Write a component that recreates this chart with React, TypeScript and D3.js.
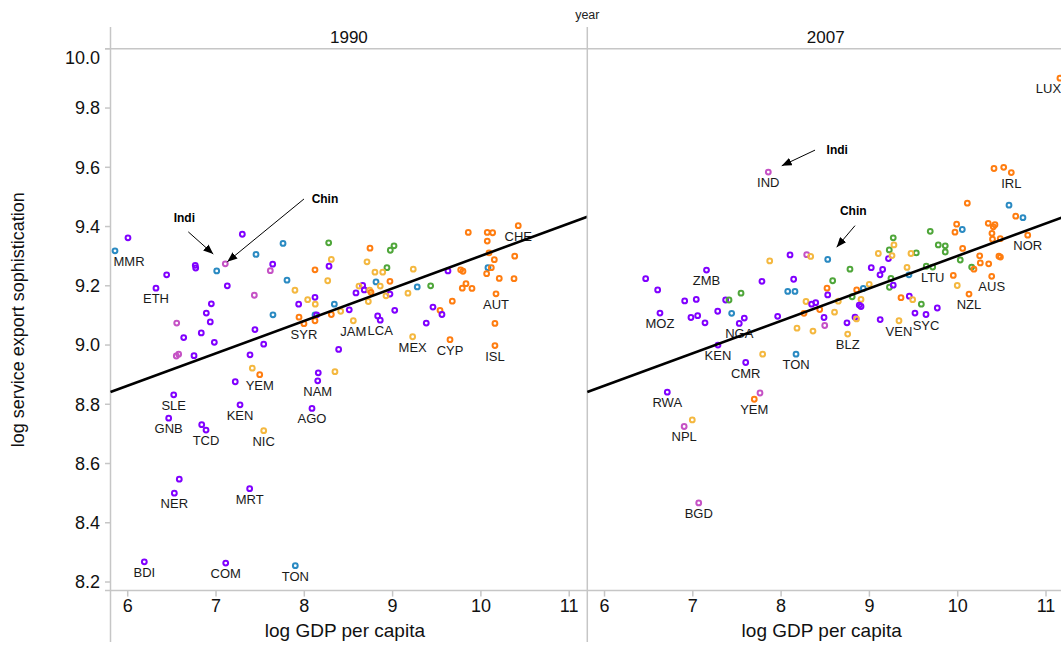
import React from 'react';
import * as d3 from 'd3';

// [log GDP per capita, log service export sophistication, region, ISO label]
type Pt = [number, number, string, string?];

const years = ['1990', '2007'];
const xTicks = [6, 7, 8, 9, 10, 11];
const yTicks = [8.2, 8.4, 8.6, 8.8, 9.0, 9.2, 9.4, 9.6, 9.8, 10.0];
const xDomain: [number, number] = [5.805, 11.205];
const yDomain: [number, number] = [8.171, 10.0];

// pooled linear fit: soph = a + b * gdp
const fitIntercept = 8.205;
const fitSlope = 0.1096;

const regionColors: Record<string, string> = {
  ssa: '#8000ff',
  eap: '#2a8ac2',
  eca: '#4fa63a',
  lac: '#f4b840',
  hi: '#ff7d10',
  sas: '#c552c5',
};

const points1990: Pt[] = [
  [5.856, 9.318, 'eap', 'MMR'], [6.003, 9.362, 'ssa'], [6.441, 9.237, 'ssa'],
  [6.32, 9.192, 'ssa', 'ETH'], [6.765, 9.269, 'ssa'], [6.77, 9.26, 'ssa'],
  [7.298, 9.374, 'ssa'], [7.008, 9.25, 'eap'], [7.105, 9.274, 'sas'],
  [7.453, 9.306, 'eap'], [7.759, 9.343, 'eap'], [8.276, 9.345, 'eca'],
  [7.642, 9.273, 'ssa'], [7.615, 9.251, 'sas'], [7.128, 9.2, 'ssa'],
  [7.804, 9.219, 'eap'], [8.306, 9.289, 'lac'], [8.121, 9.254, 'hi'],
  [8.28, 9.266, 'ssa'], [8.265, 9.217, 'lac'], [7.434, 9.168, 'sas'],
  [7.894, 9.185, 'lac'], [8.121, 9.161, 'ssa'], [8.038, 9.153, 'lac'],
  [8.124, 9.138, 'lac'], [7.936, 9.138, 'ssa'], [8.34, 9.138, 'eap'],
  [8.509, 9.119, 'ssa'], [6.947, 9.139, 'ssa'], [6.89, 9.108, 'ssa'],
  [6.935, 9.078, 'ssa'], [6.555, 9.074, 'sas'], [6.833, 9.041, 'ssa'],
  [6.634, 9.025, 'ssa'], [6.981, 9.009, 'ssa'], [6.577, 8.969, 'sas'],
  [6.55, 8.963, 'sas'], [6.751, 8.964, 'ssa'], [7.441, 9.052, 'ssa'],
  [7.54, 9.003, 'ssa'], [7.385, 8.967, 'ssa'], [7.645, 9.102, 'eap'],
  [7.94, 9.094, 'hi'], [7.996, 9.072, 'hi', 'SYR'], [8.121, 9.102, 'eap'],
  [8.14, 9.102, 'ssa'], [8.121, 9.082, 'hi'], [8.306, 9.103, 'hi'],
  [8.412, 9.114, 'lac'], [8.389, 8.985, 'ssa'], [7.411, 8.922, 'lac'],
  [7.495, 8.9, 'hi', 'YEM'], [8.158, 8.906, 'ssa'], [8.347, 8.91, 'lac'],
  [7.218, 8.876, 'ssa'], [8.152, 8.879, 'ssa', 'NAM'], [6.521, 8.832, 'ssa', 'SLE'],
  [6.464, 8.753, 'ssa', 'GNB'], [6.838, 8.731, 'ssa'], [6.887, 8.713, 'ssa', 'TCD'],
  [7.272, 8.798, 'ssa', 'KEN'], [7.54, 8.711, 'lac', 'NIC'], [8.087, 8.786, 'ssa', 'AGO'],
  [6.584, 8.547, 'ssa'], [6.528, 8.5, 'ssa', 'NER'], [7.381, 8.515, 'ssa', 'MRT'],
  [6.188, 8.268, 'ssa', 'BDI'], [7.11, 8.264, 'ssa', 'COM'], [7.898, 8.255, 'eap', 'TON'],
  [8.744, 9.327, 'hi'], [9.016, 9.335, 'eca'], [8.974, 9.32, 'eca'],
  [8.71, 9.281, 'lac'], [9.234, 9.256, 'lac'], [8.936, 9.261, 'eca'],
  [8.8, 9.246, 'lac'], [8.888, 9.246, 'lac'], [8.812, 9.213, 'eap'],
  [8.97, 9.215, 'hi'], [8.661, 9.201, 'ssa'], [8.619, 9.199, 'lac'],
  [8.679, 9.186, 'ssa'], [8.585, 9.176, 'ssa'], [8.74, 9.185, 'lac'],
  [8.755, 9.178, 'hi'], [8.86, 9.199, 'lac'], [8.97, 9.172, 'ssa'],
  [8.925, 9.166, 'lac'], [8.725, 9.147, 'lac'], [9.174, 9.175, 'lac'],
  [9.279, 9.196, 'eap'], [9.431, 9.2, 'eca'], [9.627, 9.25, 'ssa'],
  [9.771, 9.254, 'hi'], [9.797, 9.249, 'hi'], [9.857, 9.38, 'hi'],
  [10.072, 9.38, 'hi'], [10.133, 9.379, 'hi'], [10.423, 9.403, 'hi', 'CHE'],
  [10.072, 9.351, 'hi'], [10.092, 9.311, 'hi'], [10.152, 9.288, 'hi'],
  [10.383, 9.3, 'hi'], [10.08, 9.261, 'eap'], [10.118, 9.261, 'hi'],
  [10.065, 9.241, 'hi'], [10.208, 9.225, 'hi'], [10.375, 9.224, 'hi'],
  [9.831, 9.207, 'hi'], [9.789, 9.192, 'hi'], [9.899, 9.191, 'hi'],
  [10.171, 9.173, 'hi', 'AUT'], [9.676, 9.148, 'hi'], [9.457, 9.128, 'ssa'],
  [9.537, 9.117, 'hi'], [9.559, 9.103, 'ssa'], [9.381, 9.074, 'ssa'],
  [9.024, 9.117, 'ssa'], [8.831, 9.098, 'ssa'], [8.86, 9.084, 'ssa', 'LCA'],
  [8.555, 9.082, 'lac', 'JAM'], [9.227, 9.028, 'lac', 'MEX'], [9.65, 9.018, 'hi', 'CYP'],
  [10.159, 9.073, 'hi'], [10.159, 8.998, 'hi', 'ISL'],
];

const points2007: Pt[] = [
  [6.466, 9.224, 'ssa'], [6.602, 9.186, 'ssa'], [7.155, 9.253, 'ssa', 'ZMB'],
  [6.628, 9.108, 'ssa', 'MOZ'], [6.908, 9.149, 'ssa'], [7.039, 9.154, 'ssa'],
  [6.979, 9.093, 'ssa'], [7.055, 9.099, 'ssa'], [7.138, 9.075, 'ssa'],
  [7.282, 9.114, 'ssa'], [7.372, 9.152, 'ssa'], [7.41, 9.152, 'eca'],
  [7.546, 9.175, 'eca'], [7.44, 9.107, 'eap'], [7.526, 9.073, 'ssa', 'NGA'],
  [7.583, 9.091, 'ssa'], [7.285, 9.0, 'ssa', 'KEN'], [7.599, 8.941, 'ssa', 'CMR'],
  [7.791, 8.969, 'lac'], [8.169, 8.969, 'eap', 'TON'], [6.711, 8.841, 'ssa', 'RWA'],
  [7.761, 8.838, 'sas'], [7.696, 8.817, 'hi', 'YEM'], [6.994, 8.747, 'lac'],
  [6.902, 8.725, 'sas', 'NPL'], [7.067, 8.467, 'sas', 'BGD'], [7.783, 9.215, 'ssa'],
  [7.871, 9.284, 'lac'], [8.101, 9.304, 'ssa'], [8.29, 9.305, 'sas'],
  [8.335, 9.299, 'lac'], [8.528, 9.289, 'eap'], [8.142, 9.222, 'ssa'],
  [8.075, 9.181, 'eap'], [8.157, 9.181, 'eap'], [8.584, 9.217, 'eca'],
  [8.52, 9.192, 'hi'], [8.528, 9.169, 'ssa'], [8.282, 9.147, 'lac'],
  [8.346, 9.138, 'ssa'], [8.392, 9.143, 'ssa'], [8.437, 9.12, 'hi'],
  [8.259, 9.107, 'hi'], [8.605, 9.111, 'lac'], [7.961, 9.097, 'ssa'],
  [8.486, 9.093, 'ssa'], [8.494, 9.066, 'sas'], [8.18, 9.057, 'lac'],
  [8.361, 9.047, 'lac'], [7.855, 9.584, 'sas', 'IND'], [9.27, 9.362, 'eca'],
  [9.225, 9.321, 'eca'], [9.278, 9.338, 'lac'], [9.101, 9.309, 'lac'],
  [9.216, 9.292, 'ssa'], [9.256, 9.302, 'lac'], [8.78, 9.256, 'eca'],
  [9.021, 9.261, 'ssa'], [9.15, 9.255, 'ssa'], [9.12, 9.237, 'ssa'],
  [9.244, 9.225, 'eca'], [9.227, 9.195, 'eca'], [9.27, 9.202, 'ssa'],
  [8.856, 9.186, 'hi'], [8.931, 9.191, 'eap'], [8.998, 9.205, 'lac'],
  [8.805, 9.163, 'eca'], [8.905, 9.154, 'lac'], [8.885, 9.135, 'ssa'],
  [8.905, 9.13, 'ssa'], [8.837, 9.094, 'ssa'], [8.854, 9.088, 'lac'],
  [9.122, 9.086, 'ssa'], [8.746, 9.075, 'ssa'], [9.335, 9.082, 'lac', 'VEN'],
  [9.358, 9.16, 'hi'], [8.648, 9.148, 'lac'], [8.754, 9.037, 'lac', 'BLZ'],
  [9.452, 9.165, 'ssa'], [9.49, 9.153, 'lac'], [9.588, 9.138, 'eca'],
  [9.516, 9.108, 'ssa'], [9.641, 9.103, 'ssa', 'SYC'], [9.769, 9.125, 'ssa'],
  [9.448, 9.237, 'eap'], [9.426, 9.262, 'lac'], [9.689, 9.384, 'eca'],
  [9.78, 9.338, 'eca'], [9.859, 9.335, 'eca'], [9.859, 9.314, 'eca'],
  [9.531, 9.311, 'eca'], [9.471, 9.309, 'lac'], [9.644, 9.266, 'eca'],
  [9.717, 9.263, 'eca', 'LTU'], [10.029, 9.287, 'eca'], [10.158, 9.263, 'eca'],
  [10.184, 9.256, 'hi'], [9.95, 9.235, 'hi'], [9.995, 9.201, 'lac'],
  [10.128, 9.172, 'hi', 'NZL'], [10.385, 9.232, 'hi', 'AUS'], [10.056, 9.326, 'hi'],
  [10.249, 9.301, 'hi'], [10.467, 9.3, 'hi'], [10.484, 9.297, 'hi'],
  [10.256, 9.277, 'hi'], [10.351, 9.274, 'hi'], [10.394, 9.357, 'hi'],
  [10.482, 9.359, 'hi'], [10.388, 9.377, 'hi'], [10.346, 9.411, 'hi'],
  [10.422, 9.406, 'hi'], [10.403, 9.399, 'hi'], [9.988, 9.408, 'hi'],
  [9.969, 9.381, 'hi'], [10.052, 9.39, 'eap'], [10.109, 9.479, 'hi'],
  [10.411, 9.596, 'hi'], [10.521, 9.6, 'hi'], [10.607, 9.582, 'hi', 'IRL'],
  [10.581, 9.472, 'eap'], [10.657, 9.435, 'hi'], [10.739, 9.43, 'eap'],
  [10.793, 9.371, 'hi', 'NOR'], [11.158, 9.901, 'hi', 'LUX'],
];

// callouts: [text, textX, textY, arrowFromX, arrowFromY, arrowToX, arrowToY]
type Callout = [string, number, number, number, number, number, number];
const callouts1990: Callout[] = [
  ['Indi', 6.641, 9.428, 6.686, 9.382, 6.969, 9.307],
  ['Chin', 8.234, 9.495, 7.996, 9.493, 7.128, 9.281],
];
const callouts2007: Callout[] = [
  ['Indi', 8.636, 9.658, 8.384, 9.658, 8.007, 9.605],
  ['Chin', 8.817, 9.452, 8.837, 9.403, 8.629, 9.33],
];

const FONT = "'Liberation Sans', Arial, Helvetica, sans-serif";
const GRAY = '#c6c6c6';

export default function App() {
  const W = 1061;
  const H = 646;
  const panelX = [110.5, 587.3];
  const panelW = 476.8;
  const stripTop = 27;
  const plotTop = 48.8;
  const plotBottom = 590.6;

  const y = d3.scaleLinear().domain(yDomain).range([plotBottom, plotTop]);
  const panels = [
    { year: years[0], pts: points1990, notes: callouts1990 },
    { year: years[1], pts: points2007, notes: callouts2007 },
  ];

  return (
    <div style={{ position: 'fixed', left: 0, top: 0 }}>
      <svg width={W} height={H} style={{ display: 'block', background: '#fff' }} fontFamily={FONT}>
        <defs>
          <marker id="arrowHead" viewBox="0 0 10 8" refX="10" refY="4" markerWidth="10" markerHeight="8"
            markerUnits="userSpaceOnUse" orient="auto">
            <path d="M0,0 L10,4 L0,8 Z" fill="#000" />
          </marker>
        </defs>

        <text x={(panelX[0] + panelX[1] + panelW) / 2} y={19} fontSize={12.5} textAnchor="middle" fill="#222">year</text>

        {/* frame lines */}
        <line x1={105} x2={W} y1={plotTop} y2={plotTop} stroke={GRAY} strokeWidth={1.5} />
        <line x1={105} x2={W} y1={plotBottom} y2={plotBottom} stroke={GRAY} strokeWidth={1.5} />

        {/* y axis */}
        {yTicks.map((t) => (
          <g key={'y' + t}>
            <line x1={105} x2={panelX[0]} y1={y(t)} y2={y(t)} stroke={GRAY} strokeWidth={1.5} />
            <text x={100} y={Math.max(y(t), plotTop + 8.5)} dy="0.35em" fontSize={18} textAnchor="end" fill="#111">
              {t.toFixed(1)}
            </text>
          </g>
        ))}
        <text transform={`translate(24,${(plotTop + plotBottom) / 2}) rotate(-90)`} fontSize={18} textAnchor="middle" fill="#111">
          log service export sophistication
        </text>

        {panels.map((p, i) => {
          const left = panelX[i];
          const x = d3.scaleLinear().domain(xDomain).range([left, left + panelW]);
          const fit = d3.line<number>().x((g) => x(g)).y((g) => y(fitIntercept + fitSlope * g));
          const right = left + panelW;
          return (
            <g key={p.year}>
              <line x1={left} x2={left} y1={stripTop} y2={642} stroke={GRAY} strokeWidth={1.5} />
              <text x={left + panelW / 2} y={37} dy="0.35em" fontSize={17} textAnchor="middle" fill="#111">{p.year}</text>

              {xTicks.map((t) => (
                <g key={'x' + t}>
                  <line x1={x(t)} x2={x(t)} y1={plotBottom} y2={plotBottom + 6} stroke={GRAY} strokeWidth={1.5} />
                  <text x={x(t)} y={611.5} fontSize={18} textAnchor="middle" fill="#111">{t}</text>
                </g>
              ))}
              <text x={left + panelW / 2 - 4} y={637} fontSize={19} textAnchor="middle" fill="#111">log GDP per capita</text>

              {p.pts.map((d, k) => (
                <circle key={k} cx={x(d[0])} cy={y(d[1])} r={2.4} fill="none"
                  stroke={regionColors[d[2]]} strokeWidth={2} />
              ))}

              {p.pts.filter((d) => d[3]).map((d, k) => {
                const cx = x(d[0]);
                const half = (d[3] as string).length * 4.4;
                let anchor = 'middle';
                let tx = cx;
                if (cx - half < left + 3) { anchor = 'start'; tx = left + 3; }
                else if (cx + half > right - 3) { anchor = 'end'; tx = right - 3; }
                return (
                  <text key={'l' + k} x={tx} y={y(d[1]) + 15} fontSize={13} textAnchor={anchor} fill="#1a1a1a">{d[3]}</text>
                );
              })}

              <path d={fit(xDomain) || ''} fill="none" stroke="#000" strokeWidth={2.6} />

              {p.notes.map((c, k) => (
                <g key={'c' + k}>
                  <text x={x(c[1])} y={y(c[2])} dy="0.35em" fontSize={12} fontWeight="bold" textAnchor="middle" fill="#000">{c[0]}</text>
                  <line x1={x(c[3])} y1={y(c[4])} x2={x(c[5])} y2={y(c[6])} stroke="#000" strokeWidth={1}
                    markerEnd="url(#arrowHead)" />
                </g>
              ))}
            </g>
          );
        })}
      </svg>
    </div>
  );
}
